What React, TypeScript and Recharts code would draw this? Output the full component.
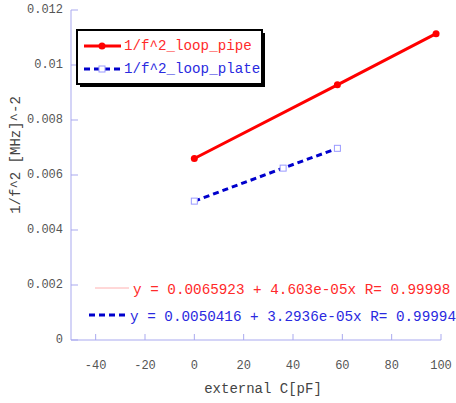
import { LineChart, Line, XAxis, YAxis } from 'recharts';

const pipeC = [0, 58, 98];
const pipeInvF2 = [0.0066, 0.00928, 0.01114];
const plateC = [0, 36, 58];
const plateInvF2 = [0.00505, 0.00625, 0.00697];

const xTicks = [-40, -20, 0, 20, 40, 60, 80, 100];
const yTicks = [0, 0.002, 0.004, 0.006, 0.008, 0.01, 0.012];

const pipeLabel = '1/f^2_loop_pipe';
const plateLabel = '1/f^2_loop_plate';
const pipeFit = 'y = 0.0065923 + 4.603e-05x R= 0.99998';
const plateFit = 'y = 0.0050416 + 3.2936e-05x R= 0.99994';

const pipeData = pipeC.map((x, i) => ({ x, y: pipeInvF2[i] }));
const plateData = plateC.map((x, i) => ({ x, y: plateInvF2[i] }));

const axisColor = '#a9a9ef';
const mono = '"Liberation Mono", "DejaVu Sans Mono", monospace';

const BottomTick = (p: any) => (
  <g>
    <line x1={p.x} x2={p.x} y1={p.y - 26} y2={p.y - 32} stroke={axisColor} />
    <text x={p.x} y={p.y} textAnchor="middle" dominantBaseline="central" fontSize={12} fontFamily={mono} fill="#555">
      {p.payload.value}
    </text>
  </g>
);

const LeftTick = (p: any) => (
  <g>
    <line x1={p.x + 8} x2={p.x + 15} y1={p.y} y2={p.y} stroke={axisColor} />
    <text x={p.x} y={p.y} textAnchor="end" dominantBaseline="central" fontSize={12} fontFamily={mono} fill="#555">
      {p.payload.value}
    </text>
  </g>
);

const TopTick = (p: any) => (
  <line x1={p.x} x2={p.x} y1={p.y} y2={p.y + 6} stroke={axisColor} />
);

const RightTick = (p: any) => (
  <line x1={p.x} x2={p.x - 6} y1={p.y} y2={p.y} stroke={axisColor} />
);

const SquareDot = (p: any) => (
  <rect key={p.index} x={p.cx - 3} y={p.cy - 3} width={6} height={6} fill="#fff" stroke="#9a9aff" strokeWidth={1} />
);

export default function App() {
  return (
    <div style={{ position: 'absolute', left: 0, top: 0, width: 456, height: 403, background: '#fff' }}>
      <LineChart width={456} height={403} margin={{ top: 10, right: 15, left: 0, bottom: 0 }}>
        <XAxis
          dataKey="x"
          type="number"
          domain={[-50, 100]}
          ticks={xTicks}
          height={63}
          stroke={axisColor}
          tickLine={false}
          tickSize={0}
          tickMargin={26}
          tick={BottomTick}
          allowDataOverflow
        />
        <XAxis
          xAxisId="top"
          orientation="top"
          type="number"
          domain={[-50, 100]}
          ticks={xTicks}
          height={0}
          stroke={axisColor}
          tickLine={false}
          tickSize={0}
          tickMargin={0}
          tick={TopTick}
        />
        <YAxis
          type="number"
          domain={[0, 0.012]}
          ticks={yTicks}
          width={71}
          stroke={axisColor}
          tickLine={false}
          tickSize={0}
          tickMargin={8}
          tick={LeftTick}
          allowDataOverflow
        />
        <YAxis
          yAxisId="right"
          orientation="right"
          type="number"
          domain={[0, 0.012]}
          ticks={yTicks}
          width={0}
          stroke={axisColor}
          tickLine={false}
          tickSize={0}
          tickMargin={0}
          tick={RightTick}
        />
        <Line
          data={pipeData}
          dataKey="y"
          stroke="#ff0000"
          strokeWidth={3}
          dot={{ r: 3.5, fill: '#ff0000', stroke: 'none' }}
          isAnimationActive={false}
        />
        <Line
          data={plateData}
          dataKey="y"
          stroke="#0000cc"
          strokeWidth={3}
          strokeDasharray="6 4"
          dot={SquareDot}
          isAnimationActive={false}
        />
      </LineChart>
      <svg
        width={456}
        height={403}
        style={{ position: 'absolute', left: 0, top: 0, pointerEvents: 'none' }}
        fontFamily={mono}
      >
        <rect x={80} y={33} width={185} height={54} fill="#000" />
        <rect x={77} y={30} width={185} height={54} fill="#fff" stroke="#000" strokeWidth={2} />
        <line x1={84} x2={121} y1={46} y2={46} stroke="#ff0000" strokeWidth={3} />
        <circle cx={102} cy={46} r={3.5} fill="#ff0000" />
        <text x={124} y={46} dominantBaseline="central" fontSize={14.2} fill="#ff2a2a">{pipeLabel}</text>
        <line x1={84} x2={121} y1={69} y2={69} stroke="#0000cc" strokeWidth={3} strokeDasharray="6 4" />
        <rect x={99} y={66} width={6} height={6} fill="#fff" stroke="#9a9aff" />
        <text x={124} y={69} dominantBaseline="central" fontSize={14.2} fill="#2a2ae0">{plateLabel}</text>

        <line x1={95} x2={129} y1={288} y2={288} stroke="#ffb0b0" strokeWidth={1} />
        <text x={133} y={290} dominantBaseline="central" fontSize={14.3} fill="#ff2a2a">{pipeFit}</text>
        <line x1={89} x2={127} y1={315} y2={315} stroke="#0000cc" strokeWidth={3} strokeDasharray="6 4" />
        <text x={130} y={317} dominantBaseline="central" fontSize={14.3} fill="#2a2ae0">{plateFit}</text>

        <text x={263} y={389} textAnchor="middle" dominantBaseline="central" fontSize={14} fill="#444">
          external C[pF]
        </text>
        <text
          x={16}
          y={155}
          textAnchor="middle"
          dominantBaseline="central"
          fontSize={14}
          fill="#444"
          transform="rotate(-90 16 155)"
        >
          1/f^2 [MHz]^-2
        </text>
      </svg>
    </div>
  );
}
